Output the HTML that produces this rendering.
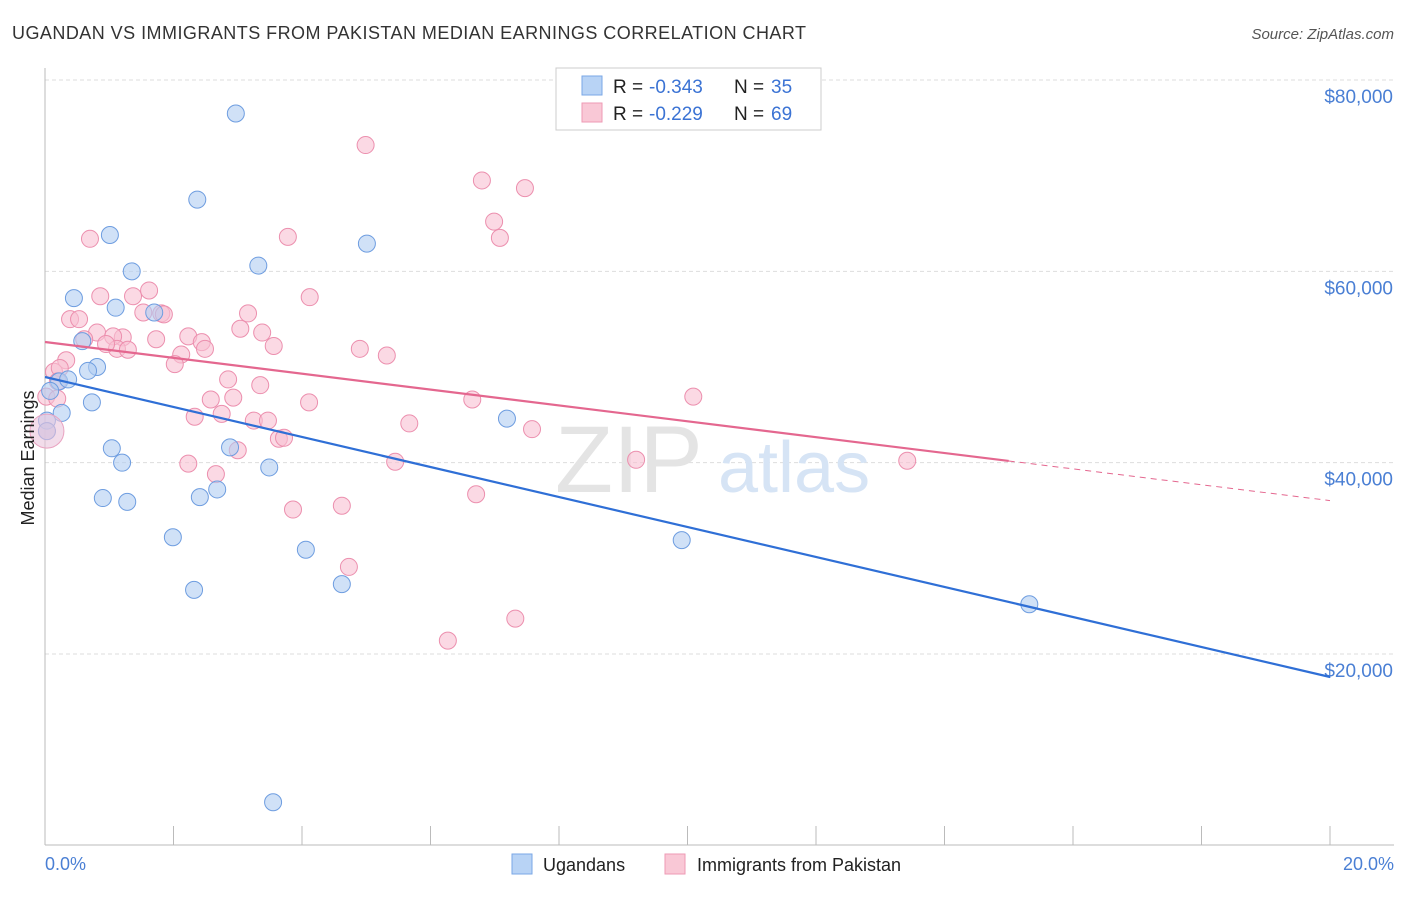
<!DOCTYPE html>
<html><head><meta charset="utf-8">
<style>
body{margin:0;background:#fff;font-family:"Liberation Sans",sans-serif;}
svg text{font-family:"Liberation Sans",sans-serif;}
</style></head>
<body>
<svg id="chart" width="1406" height="892" xmlns="http://www.w3.org/2000/svg">
<text x="12" y="39" font-size="18" fill="#333" textLength="794">UGANDAN VS IMMIGRANTS FROM PAKISTAN MEDIAN EARNINGS CORRELATION CHART</text>
<text x="1394" y="39" font-size="15" fill="#555" text-anchor="end" font-style="italic">Source: ZipAtlas.com</text>
<g id="grid"></g>
<text x="555" y="492" font-size="95" fill="#e4e4e4" font-family="Liberation Serif">ZIP</text>
<text x="718" y="492" font-size="72" fill="#d6e4f5">atlas</text>
<g id="points"></g>
<g id="lines"></g>
<text transform="translate(34,458) rotate(-90)" font-size="18" fill="#222" text-anchor="middle">Median Earnings</text>
<text x="45" y="870" font-size="18" fill="#4a7fd4">0.0%</text>
<text x="1394" y="870" font-size="18" fill="#4a7fd4" text-anchor="end">20.0%</text>
<g>
<rect x="556" y="68" width="265" height="62" fill="#fff" stroke="#ccc"/>
<rect x="582" y="76" width="20" height="19" fill="#b8d3f5" stroke="#7aa7e6"/>
<rect x="582" y="103" width="20" height="19" fill="#f9c8d6" stroke="#ee9ab4"/>
<text x="613" y="93" font-size="19" fill="#222">R =</text>
<text x="649" y="93" font-size="19" fill="#3b73d4">-0.343</text>
<text x="734" y="93" font-size="19" fill="#222">N =</text>
<text x="771" y="93" font-size="19" fill="#3b73d4">35</text>
<text x="613" y="120" font-size="19" fill="#222">R =</text>
<text x="649" y="120" font-size="19" fill="#3b73d4">-0.229</text>
<text x="734" y="120" font-size="19" fill="#222">N =</text>
<text x="771" y="120" font-size="19" fill="#3b73d4">69</text>
</g>
<g>
<rect x="512" y="854" width="20" height="20" fill="#b8d3f5" stroke="#7aa7e6"/>
<text x="543" y="871" font-size="18" fill="#222">Ugandans</text>
<rect x="665" y="854" width="20" height="20" fill="#f9c8d6" stroke="#ee9ab4"/>
<text x="697" y="871" font-size="18" fill="#222">Immigrants from Pakistan</text>
</g>
</svg>
<script>
const yTicks=[20000,40000,60000,80000];
const yTickLabels=["$20,000","$40,000","$60,000","$80,000"];
const ugX=[2.97,2.37,1.01,5.01,3.32,1.35,0.45,1.10,1.70,0.58,0.81,0.67,0.22,0.36,0.08,0.73,0.26,0.03,1.04,1.20,2.88,3.49,7.19,0.90,1.28,2.41,2.68,1.99,4.06,9.91,4.62,2.32,15.32,3.55,0.03];
const ugY=[76500,67500,63800,62900,60600,60000,57200,56200,55700,52700,50000,49600,48500,48700,47500,46300,45200,44400,41500,40000,41600,39500,44600,36300,35900,36400,37200,32200,30900,31900,27300,26700,25200,4500,43300];
const pkX=[4.99,6.80,7.47,6.99,7.08,0.70,3.78,4.12,0.86,1.37,1.62,0.39,0.53,3.16,1.53,1.81,0.81,1.21,1.06,2.23,2.44,3.04,3.38,1.73,0.61,1.12,2.49,3.56,4.90,5.32,2.12,2.02,0.33,0.14,0.23,2.85,3.35,2.58,2.93,4.11,6.65,10.09,2.33,2.75,3.25,3.47,5.67,7.58,3.64,3.72,3.00,5.45,2.23,9.20,13.42,2.66,6.71,3.86,4.62,4.73,7.32,6.27,0.03,0.20,0.02,0.19,0.95,1.29,1.85];
const pkY=[73200,69500,68700,65200,63500,63400,63600,57300,57400,57400,58000,55000,55000,55600,55700,55600,53600,53100,53200,53200,52600,54000,53600,52900,52900,51900,51900,52200,51900,51200,51300,50300,50700,49500,49900,48700,48100,46600,46800,46300,46600,46900,44800,45100,44400,44400,44100,43500,42500,42600,41300,40100,39900,40300,40200,38800,36700,35100,35500,29100,23700,21400,43300,48500,46900,46700,52400,51800,55500];
const ugTrend=[48955,-1568];
const pkTrend=[52613,-829];
const SVGNS="http://www.w3.org/2000/svg";
const X0=45,X1=1330;
function xs(v){return X0+(v/20)*(X1-X0);}
function ys(v){return 80+(80000-v)/20000*191.33;}
const grid=document.getElementById('grid');
function mk(tag,attrs,parent){const e=document.createElementNS(SVGNS,tag);for(const k in attrs)e.setAttribute(k,attrs[k]);parent.appendChild(e);return e;}
yTicks.forEach((t,i)=>{
  const l=mk('line',{x1:45,x2:1394,y1:ys(t),y2:ys(t),stroke:'#ddd','stroke-dasharray':'4,3'},grid);
  
  
  const tx=mk('text',{x:1393,y:ys(t)+23,'font-size':19,fill:'#4a7fd4','text-anchor':'end'},grid);
  tx.textContent=yTickLabels[i];
  
  
});
const ax=mk('line',{x1:45,x2:45,y1:68,y2:845,stroke:'#bbb'},grid);


const bx=mk('line',{x1:45,x2:1394,y1:845,y2:845,stroke:'#bbb'},grid);


for(let i=1;i<=10;i++){
  const tk=mk('line',{x1:xs(i*2),x2:xs(i*2),y1:826,y2:845,stroke:'#bbb'},grid);
  
  
}
const pts=document.getElementById('points');
function dots(X,Y,fill,stroke,name){
  X.forEach((x,i)=>{
    const c=mk('circle',{cx:xs(x),cy:ys(Y[i]),r:8.5,fill:fill,'fill-opacity':0.6,stroke:stroke,'stroke-width':1},pts);
    
    
  });
}
dots(pkX,pkY,'#f9c0d2','#ec8fae','pakistan-point');
dots(ugX,ugY,'#b0cdf2','#6e9de0','ugandan-point');
const big=mk('circle',{cx:xs(0.03),cy:ys(43300),r:17,fill:'#e9c5dc','fill-opacity':0.6,stroke:'#e9a2c0'},pts);


const lg=document.getElementById('lines');
function tv(t,x){return t[0]+t[1]*x;}
const ul=mk('line',{x1:xs(0),y1:ys(tv(ugTrend,0)),x2:xs(20),y2:ys(tv(ugTrend,20)),stroke:'#2f6fd6','stroke-width':2.2},lg);


const pl=mk('line',{x1:xs(0),y1:ys(tv(pkTrend,0)),x2:xs(15),y2:ys(tv(pkTrend,15)),stroke:'#e4678f','stroke-width':2.2},lg);


const pd=mk('line',{x1:xs(15),y1:ys(tv(pkTrend,15)),x2:xs(20),y2:ys(tv(pkTrend,20)),stroke:'#e4678f','stroke-width':1,'stroke-dasharray':'6,5'},lg);


</script>
</body></html>
